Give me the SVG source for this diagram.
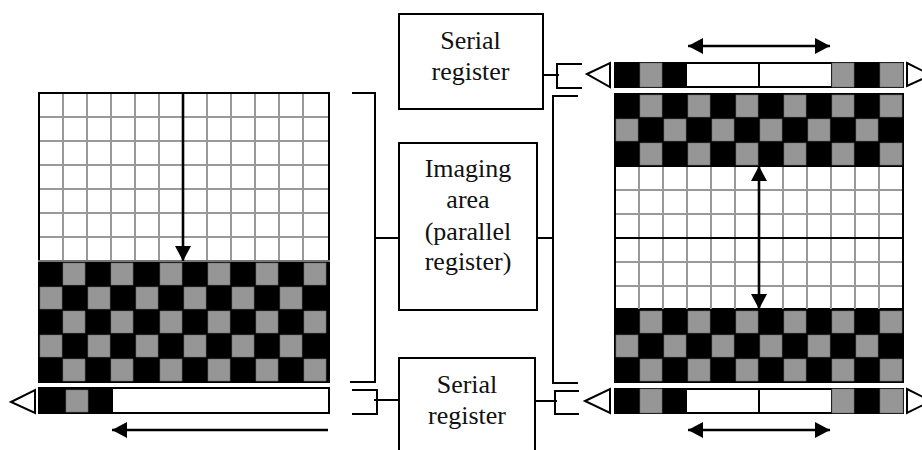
<svg xmlns="http://www.w3.org/2000/svg" xmlns:xlink="http://www.w3.org/1999/xlink" width="922" height="450" viewBox="0 0 922 450">
<style>
.box{fill:#fff;stroke:#000;stroke-width:2}
.t{font-family:"Liberation Serif","Times New Roman",serif;font-size:26px;fill:#111;text-anchor:middle}
.g{fill:#969696;stroke:#6e6e6e;stroke-width:.6}
.bk{fill:#000}
.gl{stroke:#999;stroke-width:2;fill:none}
.ln{stroke:#000;stroke-width:2;fill:none}
.arr{stroke:#000;stroke-width:2.6;fill:none}
.tri{fill:#fff;stroke:#000;stroke-width:2}
</style>
<defs>
<marker id="a" markerUnits="userSpaceOnUse" markerWidth="16" markerHeight="16" refX="15" refY="8" orient="auto-start-reverse"><path d="M0 0L15 8L0 16Z" fill="#000"/></marker>
<rect id="c" class="g" width="22" height="22"/>
</defs>
<rect width="922" height="450" fill="#fff"/>

<g id="left-imaging-area">
<rect x="39" y="93" width="290" height="168" fill="#fff" stroke="#000" stroke-width="2"/>
<path class="gl" d="M63 94V261M87 94V261M111 94V261M135 94V261M159 94V261M183 94V261M207 94V261M231 94V261M255 94V261M279 94V261M303 94V261M40 117H328M40 141H328M40 165H328M40 189H328M40 213H328M40 237H328"/>
<rect class="bk" x="38" y="261" width="292" height="122"/>
<path d="M38 261H330" stroke="#777" stroke-width="2"/>
<g id="left-cells">
<use href="#c" x="63" y="263"/><use href="#c" x="111" y="263"/><use href="#c" x="160" y="263"/><use href="#c" x="208" y="263"/><use href="#c" x="256" y="263"/><use href="#c" x="304" y="263"/>
<use href="#c" x="40" y="287"/><use href="#c" x="88" y="287"/><use href="#c" x="136" y="287"/><use href="#c" x="184" y="287"/><use href="#c" x="232" y="287"/><use href="#c" x="280" y="287"/>
<use href="#c" x="63" y="311"/><use href="#c" x="111" y="311"/><use href="#c" x="160" y="311"/><use href="#c" x="208" y="311"/><use href="#c" x="256" y="311"/><use href="#c" x="304" y="311"/>
<use href="#c" x="40" y="335"/><use href="#c" x="88" y="335"/><use href="#c" x="136" y="335"/><use href="#c" x="184" y="335"/><use href="#c" x="232" y="335"/><use href="#c" x="280" y="335"/>
<use href="#c" x="63" y="359"/><use href="#c" x="111" y="359"/><use href="#c" x="160" y="359"/><use href="#c" x="208" y="359"/><use href="#c" x="256" y="359"/><use href="#c" x="304" y="359"/>
</g>
</g>

<g id="left-serial-register">
<rect x="39" y="388" width="290" height="25" fill="#fff" stroke="#000" stroke-width="2"/>
<rect class="bk" x="39" y="388" width="74" height="26"/>
<rect class="g" x="66" y="390" width="22" height="22"/>
<path class="tri" d="M11 402L35 390V413Z"/>
</g>

<g id="right-imaging-area">
<rect x="615" y="166" width="288" height="143" fill="#fff" stroke="#000" stroke-width="2"/>
<path class="gl" d="M639 167V309M663 167V309M687 167V309M711 167V309M735 167V309M759 167V309M783 167V309M807 167V309M831 167V309M855 167V309M879 167V309M616 190H902M616 214H902M616 262H902M616 286H902"/>
<path class="ln" d="M615 238H903"/>
<rect class="bk" x="614" y="93" width="290" height="73"/>
<rect class="bk" x="614" y="309" width="290" height="74"/>
<g id="right-cells">
<use href="#c" x="640" y="95"/><use href="#c" x="688" y="95"/><use href="#c" x="736" y="95"/><use href="#c" x="784" y="95"/><use href="#c" x="832" y="95"/><use href="#c" x="880" y="95"/>
<use href="#c" x="616" y="119"/><use href="#c" x="664" y="119"/><use href="#c" x="712" y="119"/><use href="#c" x="760" y="119"/><use href="#c" x="808" y="119"/><use href="#c" x="856" y="119"/>
<use href="#c" x="640" y="143"/><use href="#c" x="688" y="143"/><use href="#c" x="736" y="143"/><use href="#c" x="784" y="143"/><use href="#c" x="832" y="143"/><use href="#c" x="880" y="143"/>
<use href="#c" x="640" y="311"/><use href="#c" x="688" y="311"/><use href="#c" x="736" y="311"/><use href="#c" x="784" y="311"/><use href="#c" x="832" y="311"/><use href="#c" x="880" y="311"/>
<use href="#c" x="616" y="335"/><use href="#c" x="664" y="335"/><use href="#c" x="712" y="335"/><use href="#c" x="760" y="335"/><use href="#c" x="808" y="335"/><use href="#c" x="856" y="335"/>
<use href="#c" x="640" y="359"/><use href="#c" x="688" y="359"/><use href="#c" x="736" y="359"/><use href="#c" x="784" y="359"/><use href="#c" x="832" y="359"/><use href="#c" x="880" y="359"/>
</g>
</g>

<g id="right-serial-top">
<rect x="615" y="63" width="288" height="24" fill="#fff" stroke="#000" stroke-width="2"/>
<rect class="bk" x="614" y="62" width="73" height="26"/>
<rect class="g" x="640" y="63" width="22" height="24"/>
<path class="ln" d="M759 63V87"/>
<rect class="bk" x="831" y="62" width="73" height="26"/>
<rect class="g" x="832" y="63" width="22" height="24"/>
<rect class="g" x="880" y="63" width="23" height="24"/>
<path class="tri" d="M587 74L610 63V87Z"/>
<path class="tri" d="M907 63L931 75L907 86Z"/>
</g>

<g id="right-serial-bottom">
<rect x="615" y="389" width="288" height="24" fill="#fff" stroke="#000" stroke-width="2"/>
<rect class="bk" x="614" y="388" width="73" height="26"/>
<rect class="g" x="640" y="389" width="22" height="24"/>
<path class="ln" d="M759 389V413"/>
<rect class="bk" x="831" y="388" width="73" height="26"/>
<rect class="g" x="832" y="389" width="22" height="24"/>
<rect class="g" x="880" y="389" width="23" height="24"/>
<path class="tri" d="M585 401L610 389V413Z"/>
<path class="tri" d="M907 389L931 401L907 413Z"/>
</g>

<g id="node-serial-top">
<rect class="box" x="399" y="14" width="144" height="95"/>
<text class="t" x="470.500" y="49">Serial</text>
<text class="t" x="470.500" y="80">register</text>
</g>
<g id="node-imaging">
<rect class="box" x="399" y="143" width="138" height="167"/>
<text class="t" x="468" y="177">Imaging</text>
<text class="t" x="468" y="208">area</text>
<text class="t" x="468" y="240">(parallel</text>
<text class="t" x="468" y="270">register)</text>
</g>
<g id="node-serial-bottom">
<path class="box" d="M399 452V358H535V452"/>
<text class="t" x="467" y="393">Serial</text>
<text class="t" x="467" y="424">register</text>
</g>

<g id="connectors">
<path class="ln" d="M352 93H375V382H350"/>
<path class="ln" d="M375 238H399"/>
<path class="ln" d="M352 390H377V414H352"/>
<path class="ln" d="M374 400H399"/>
<path class="ln" d="M578 96H553V383H578"/>
<path class="ln" d="M537 238H553"/>
<path class="ln" d="M579 391H555V414H579"/>
<path class="ln" d="M535 401H557"/>
<path class="ln" d="M582 64H557V88H582"/>
<path class="ln" d="M543 75H559"/>
<path class="arr" d="M183 94V261" marker-end="url(#a)"/>
<path class="arr" d="M328 430H112" marker-end="url(#a)"/>
<path class="arr" d="M688 46H830" marker-start="url(#a)" marker-end="url(#a)"/>
<path class="arr" d="M688 430H830" marker-start="url(#a)" marker-end="url(#a)"/>
<path class="arr" d="M759 166V309" marker-start="url(#a)" marker-end="url(#a)"/>
</g>
</svg>
